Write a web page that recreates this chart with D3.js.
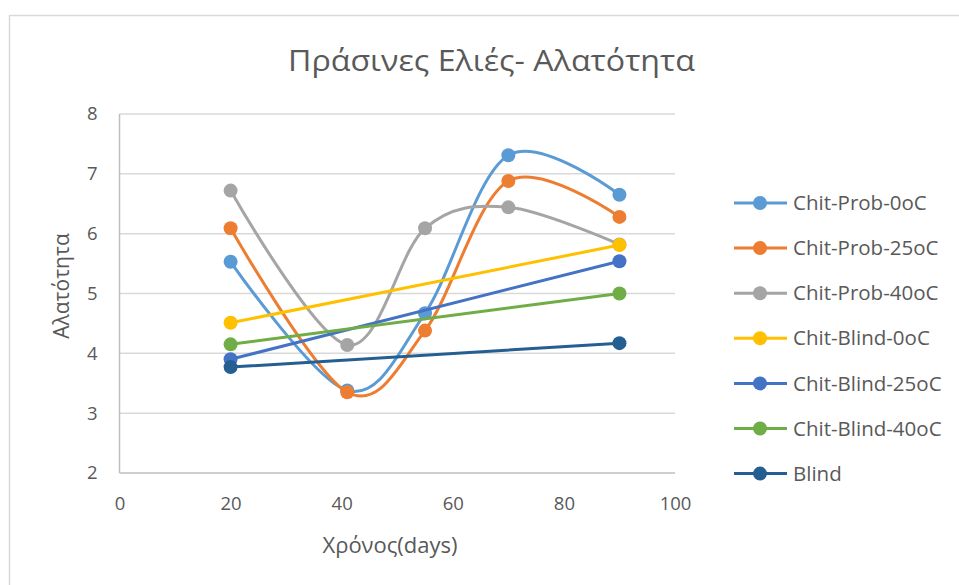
<!DOCTYPE html>
<html><head><meta charset="utf-8">
<script src="https://cdn.jsdelivr.net/npm/d3@7"></script>
<style>body{margin:0;background:#fff;}svg{display:block;}</style>
</head><body>
<svg id="c" width="959" height="585"></svg>
<script>
const title = "Πράσινες Ελιές- Αλατότητα";
const xTitle = "Χρόνος(days)";
const yTitle = "Αλατότητα";
const seriesNames = ["Chit-Prob-0oC","Chit-Prob-25oC","Chit-Prob-40oC","Chit-Blind-0oC","Chit-Blind-25oC","Chit-Blind-40oC","Blind"];
const colors = ["#5B9BD5","#ED7D31","#A5A5A5","#FFC000","#4472C4","#70AD47","#255E91"];
const probDays = [20,41,55,70,90];
const blindDays = [20,90];
const chitProb0 = [5.53,3.38,4.67,7.31,6.65];
const chitProb25 = [6.09,3.35,4.38,6.88,6.28];
const chitProb40 = [6.72,4.14,6.09,6.44,5.82];
const chitBlind0 = [4.51,5.81];
const chitBlind25 = [3.90,5.54];
const chitBlind40 = [4.15,5.00];
const blind = [3.77,4.17];
const xTicks = [0,20,40,60,80,100];
const yTicks = [2,3,4,5,6,7,8];

const seriesVals = [chitProb0,chitProb25,chitProb40,chitBlind0,chitBlind25,chitBlind40,blind];
const seriesDays = [probDays,probDays,probDays,blindDays,blindDays,blindDays,blindDays];

const svg = d3.select("#c");
const font = "'Open Sans', sans-serif";
const txt = "#595959";

// chart border
svg.append("path").attr("d","M9.5,585 L9.5,15.5 L959,15.5").attr("fill","none").attr("stroke","#D9D9D9").attr("stroke-width",1.5);

const x = d3.scaleLinear().domain([0,100]).range([119.5,675]);
const y = d3.scaleLinear().domain([2,8]).range([473,114]);

// gridlines
svg.append("g").selectAll("line").data(yTicks).join("line")
  .attr("x1",x(0)).attr("x2",x(100)).attr("y1",d=>y(d)).attr("y2",d=>y(d))
  .attr("stroke",d=>d===2?"#BFBFBF":"#D9D9D9").attr("stroke-width",1.5);
svg.append("line").attr("x1",x(0)).attr("x2",x(0)).attr("y1",y(8)).attr("y2",y(2))
  .attr("stroke","#BFBFBF").attr("stroke-width",1.5);

// axis labels via d3 axes
const yAxis = svg.append("g").attr("transform",`translate(${x(0)},0)`)
  .call(d3.axisLeft(y).tickValues(yTicks).tickFormat(d3.format("d")).tickSize(0).tickPadding(22));
const xAxis = svg.append("g").attr("transform",`translate(0,${y(2)})`)
  .call(d3.axisBottom(x).tickValues(xTicks).tickFormat(d3.format("d")).tickSize(0).tickPadding(24));
[yAxis,xAxis].forEach(g=>{
  g.select(".domain").remove();
  g.selectAll("text").attr("font-family",font).attr("font-size",18.5).attr("fill",txt);
});

// title
svg.append("text").attr("x",491.5).attr("y",71).attr("text-anchor","middle")
  .attr("textLength",407).attr("lengthAdjust","spacingAndGlyphs")
  .attr("font-family",font).attr("font-size",30).attr("fill",txt).text(title);
svg.append("text").attr("x",390).attr("y",553).attr("text-anchor","middle")
  .attr("font-family",font).attr("font-size",22).attr("fill",txt).text(xTitle);
svg.append("text").attr("transform","translate(69,286) rotate(-90)").attr("text-anchor","middle")
  .attr("font-family",font).attr("font-size",21).attr("fill",txt).text(yTitle);

// series
const line = d3.line().x(d=>x(d[0])).y(d=>y(d[1])).curve(d3.curveCardinal.tension(0));
seriesNames.forEach((name,i)=>{
  const pts = seriesDays[i].map((d,j)=>[d,seriesVals[i][j]]);
  const g = svg.append("g");
  g.append("path").attr("d",line(pts)).attr("fill","none").attr("stroke",colors[i]).attr("stroke-width",3).attr("stroke-linecap","round");
  g.selectAll("circle").data(pts).join("circle").attr("cx",d=>x(d[0])).attr("cy",d=>y(d[1])).attr("r",7).attr("fill",colors[i]);
});

// legend
const leg = svg.append("g");
seriesNames.forEach((name,i)=>{
  const yy = 203 + i*45.1;
  leg.append("line").attr("x1",734).attr("x2",787).attr("y1",yy).attr("y2",yy).attr("stroke",colors[i]).attr("stroke-width",3);
  leg.append("circle").attr("cx",760).attr("cy",yy).attr("r",7).attr("fill",colors[i]);
  leg.append("text").attr("x",793).attr("y",yy).attr("dy","0.35em").attr("font-family",font).attr("font-size",20.5).attr("fill",txt).text(name);
});
</script>
</body></html>
